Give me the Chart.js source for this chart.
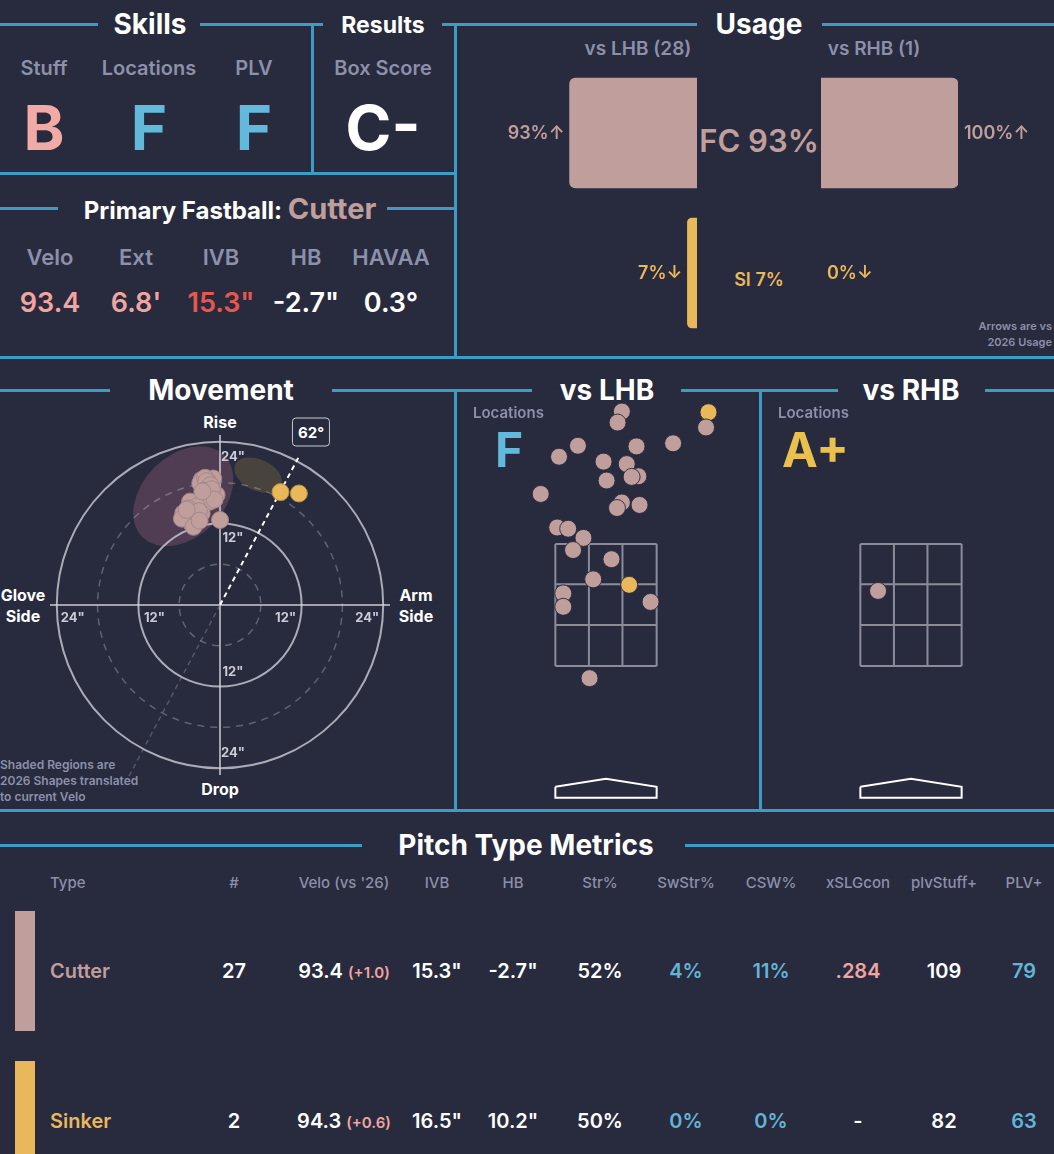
<!DOCTYPE html>
<html>
<head>
<meta charset="utf-8">
<script src="https://cdn.jsdelivr.net/npm/chart.js@4.4.1/dist/chart.umd.min.js"></script>
<style>
  body { margin: 0; background: #282a3e; overflow: hidden; font-family: Inter, "DejaVu Sans", sans-serif; }
  #board { position: relative; width: 1054px; height: 1154px; overflow: hidden; background: #282a3e; color: #fff; }
  .hl { position: absolute; height: 3px; background: #3b9cc6; }
  .vl { position: absolute; width: 3px; background: #3b9cc6; }
  .t { position: absolute; transform: translate(-50%, -50%); white-space: nowrap; line-height: 1; }
  .tr { position: absolute; transform: translate(-100%, -50%); white-space: nowrap; line-height: 1; }
  .tl { position: absolute; transform: translate(0, -50%); white-space: nowrap; line-height: 1; }
  canvas { position: absolute; }
</style>
</head>
<body>
<div id="board"></div>
<script>
// ---------- data ----------
const pitchTypes = ['Cutter', 'Sinker'];
const pitchCodes = ['FC', 'SI'];
const pitchColors = ['#c09e9c', '#e8b85a'];

// usage (%)
const usageAll = [93, 7];
const usageLHB = [93, 7];
const usageRHB = [100, 0];
const usageArrowLHB = ['↑', '↓'];
const usageArrowRHB = ['↑', '↓'];
const batterCounts = [28, 1];

// movement (inches): horizontal break, induced vertical break
const cutterHB = [-2.7, -1.0, -1.7, -2.9, -0.5, -2.7, -4.4, -1.5, -5.4, -3.7, -2.7, -4.2, -5.6, 0.0,
  -2.2, -3.4, -4.7, -3.9, -2.0, -1.4, -3.1, -4.9, -2.4, -1.2, -3.0, -0.8, -2.6];
const cutterIVB = [18.4, 18.6, 18.1, 17.9, 16.2, 15.4, 15.2, 15.2, 13.5, 13.0, 13.5, 12.0, 12.7, 12.5,
  18.7, 14.5, 14.2, 11.5, 18.2, 17.6, 13.8, 14.0, 16.8, 17.0, 12.4, 15.5, 16.7];
const sinkerHB = [8.9, 11.6];
const sinkerIVB = [16.6, 16.4];
const armAngle = 62;
const ringValues = [6, 12, 18, 24];

// 2026 shapes (inches, degrees)
const shapeHB = [-5.4, 5.6];
const shapeIVB = [16.0, 19.1];
const shapeMajor = [8.5, 3.7];
const shapeMinor = [6.0, 2.3];
const shapeTilt = [45, -25];

// locations (feet): plate_x, plate_z
const lhbCutterX = [0.26, 0.19, 1.64, -0.46, -0.77, 0.50, 1.10, -0.04, 0.34, 0.53, 0.42, 0.01, -1.07,
  0.26, 0.18, 0.55, -0.80, -0.62, -0.37, -0.54, 0.09, -0.21, -0.70, -0.70, 0.73, -0.27];
const lhbCutterZ = [5.67, 5.49, 5.41, 5.11, 4.93, 5.10, 5.15, 4.85, 4.81, 4.61, 4.60, 4.54, 4.32,
  4.18, 4.09, 4.14, 3.77, 3.75, 3.60, 3.40, 3.25, 2.92, 2.69, 2.47, 2.55, 1.30];
const lhbSinkerX = [1.68, 0.38];
const lhbSinkerZ = [5.66, 2.83];
const rhbCutterX = [-0.54];
const rhbCutterZ = [2.73];
const locationGrades = ['F', 'A+'];

// skills / results
const skillLabels = ['Stuff', 'Locations', 'PLV'];
const skillGrades = ['B', 'F', 'F'];
const boxScore = 'C-';
const fbLabels = ['Velo', 'Ext', 'IVB', 'HB', 'HAVAA'];
const fbValues = ['93.4', "6.8'", '15.3"', '-2.7"', '0.3°'];

// table
const tableHeaders = ['Type', '#', "Velo (vs '26)", 'IVB', 'HB', 'Str%', 'SwStr%', 'CSW%', 'xSLGcon', 'plvStuff+', 'PLV+'];
const pitchCounts = ['27', '2'];
const velo = ['93.4', '94.3'];
const veloDiff = ['+1.0', '+0.6'];
const ivb = ['15.3"', '16.5"'];
const hb = ['-2.7"', '10.2"'];
const strPct = ['52%', '50%'];
const swStrPct = ['4%', '0%'];
const cswPct = ['11%', '0%'];
const xslgcon = ['.284', '-'];
const plvStuff = ['109', '82'];
const plvPlus = ['79', '63'];

// ---------- colours ----------
const gray = '#8c90a8';
const gradeColor = { 'A+': '#e9c24e', 'B': '#f2aaa6', 'F': '#62b9dc', 'C-': '#ffffff' };
const blue = '#62b4d8';
const pink = '#f0a5a0';

// ---------- helpers ----------
const board = document.getElementById('board');
function hline(x1, x2, y) {
  const d = document.createElement('div');
  d.className = 'hl';
  d.style.cssText = `left:${x1}px;width:${x2 - x1}px;top:${y - 1.5}px`;
  board.appendChild(d);
}
function vline(x, y1, y2) {
  const d = document.createElement('div');
  d.className = 'vl';
  d.style.cssText = `left:${x - 1.5}px;top:${y1}px;height:${y2 - y1}px`;
  board.appendChild(d);
}
function text(x, y, html, style, cls) {
  const d = document.createElement('div');
  d.className = cls || 't';
  d.style.cssText = `left:${x}px;top:${y}px;` + (style || '');
  d.innerHTML = html;
  board.appendChild(d);
  return d;
}
function canvas(left, top, w, h) {
  const c = document.createElement('canvas');
  c.width = w; c.height = h;
  c.style.cssText = `left:${left}px;top:${top}px;width:${w}px;height:${h}px`;
  board.appendChild(c);
  return c;
}
const H1 = 'font-size:28px;font-weight:700;color:#fff;';
const baseOptions = {
  responsive: false, animation: false, events: [],
  layout: { padding: 0, autoPadding: false },
  plugins: { legend: { display: false }, tooltip: { enabled: false } }
};

// ---------- frame ----------
hline(0, 98, 24); hline(200, 323, 24); hline(442, 455, 24);
hline(455, 697, 24); hline(822, 1054, 24);
vline(312, 24, 173); vline(455, 24, 357);
hline(0, 455, 173);
hline(0, 58, 208); hline(387, 455, 208);
hline(0, 1054, 357);
hline(0, 110, 390); hline(332, 455, 390);
hline(455, 532, 390); hline(681, 760, 390);
hline(760, 838, 390); hline(985, 1054, 390);
vline(455, 390, 810); vline(760, 390, 810);
hline(0, 1054, 810);
hline(0, 362, 845); hline(685, 1054, 845);

// ---------- skills / results ----------
text(150, 24, 'Skills', H1);
text(383, 25, 'Results', 'font-size:23px;font-weight:700;');
const skillX = [44, 149, 254];
skillLabels.forEach((s, i) => {
  text(skillX[i], 68, s, `font-size:20px;font-weight:600;color:${gray}`);
  text(skillX[i], 128, skillGrades[i], `font-size:62px;font-weight:700;color:${gradeColor[skillGrades[i]]}`);
});
text(383, 68, 'Box Score', `font-size:20px;font-weight:600;color:${gray}`);
text(383, 128, boxScore, `font-size:62px;font-weight:700;color:${gradeColor[boxScore]}`);

text(230, 208, `Primary Fastball: <span style="font-size:29px;color:${pitchColors[0]}">${pitchTypes[0]}</span>`, 'font-size:24px;font-weight:700;');
const fbX = [50, 136, 221, 306, 391];
const fbColors = [pink, pink, '#e8574f', '#fff', '#fff'];
fbLabels.forEach((s, i) => {
  text(fbX[i], 257, s, `font-size:22px;font-weight:600;color:${gray}`);
  text(fbX[i], 302, fbValues[i], `font-size:27px;font-weight:600;color:${fbColors[i]}`);
});

// ---------- usage ----------
text(759, 24, 'Usage', H1);
text(638, 48, `vs LHB (${batterCounts[0]})`, `font-size:19px;font-weight:600;color:${gray}`);
text(874, 48, `vs RHB (${batterCounts[1]})`, `font-size:19px;font-weight:600;color:${gray}`);
text(759, 140, `${pitchCodes[0]} ${usageAll[0]}%`, `font-size:31px;font-weight:600;color:${pitchColors[0]}`);
text(759, 280, `${pitchCodes[1]} ${usageAll[1]}%`, `font-size:18px;font-weight:600;color:${pitchColors[1]}`);
text(1052, 326, 'Arrows are vs', `font-size:11px;font-weight:600;color:${gray}`, 'tr');
text(1052, 342, '2026 Usage', `font-size:11px;font-weight:600;color:${gray}`, 'tr');

function usageChart(left, values, reverse) {
  const c = canvas(left, 63, 137, 280);
  return new Chart(c, {
    type: 'bar',
    data: {
      labels: pitchCodes,
      datasets: [{ data: values.map(v => v || null), backgroundColor: pitchColors, borderRadius: 6, barThickness: 110 }]
    },
    options: {
      ...baseOptions,
      indexAxis: 'y',
      scales: {
        x: { min: 0, max: 100, reverse: reverse, display: false },
        y: { display: false }
      }
    }
  });
}
const uL = usageChart(560, usageLHB, true);
const uR = usageChart(821, usageRHB, false);
const rowCenters = uL.getDatasetMeta(0).data.map(b => b.y);
uL.getDatasetMeta(0).data.forEach((bar, i) => {
  text(560 + bar.x - 5, 63 + rowCenters[i], `${usageLHB[i]}%${usageArrowLHB[i]}`,
    `font-size:18px;font-weight:600;color:${pitchColors[i]}`, 'tr');
});
usageRHB.forEach((v, i) => {
  const x = uR.scales.x.getPixelForValue(v);
  text(821 + x + 6, 63 + rowCenters[i], `${v}%${usageArrowRHB[i]}`,
    `font-size:18px;font-weight:600;color:${pitchColors[i]}`, 'tl');
});

// ---------- movement ----------
text(221, 390, 'Movement', H1);
text(220, 422, 'Rise', 'font-size:16px;font-weight:700;');
text(220, 789, 'Drop', 'font-size:16px;font-weight:700;');
text(23, 595, 'Glove', 'font-size:16px;font-weight:700;');
text(23, 616, 'Side', 'font-size:16px;font-weight:700;');
text(416, 595, 'Arm', 'font-size:16px;font-weight:700;');
text(416, 616, 'Side', 'font-size:16px;font-weight:700;');
text(311, 432, `${armAngle}°`, 'font-size:15px;font-weight:700;border:1.5px solid #c8c8d4;border-radius:4px;padding:6px 5px;background:#282a3e;');
['Shaded Regions are', '2026 Shapes translated', 'to current Velo'].forEach((s, i) => {
  text(0, 765 + i * 16, s, `font-size:12px;font-weight:600;color:${gray}`, 'tl');
});

const shapeFills = ['rgba(200,120,150,0.25)', 'rgba(190,160,60,0.22)'];
const movementGrid = {
  id: 'movementGrid',
  beforeDatasetsDraw(chart) {
    const { ctx, scales: { x, y } } = chart;
    const cx = x.getPixelForValue(0), cy = y.getPixelForValue(0);
    const len = v => x.getPixelForValue(v) - cx;
    ctx.save();
    shapeHB.forEach((h, i) => {
      ctx.beginPath();
      ctx.ellipse(x.getPixelForValue(h), y.getPixelForValue(shapeIVB[i]), len(shapeMajor[i]), len(shapeMinor[i]),
        -shapeTilt[i] * Math.PI / 180, 0, Math.PI * 2);
      ctx.fillStyle = shapeFills[i];
      ctx.fill();
    });
    ringValues.forEach(r => {
      const solid = r % 12 === 0;
      ctx.beginPath();
      ctx.arc(cx, cy, len(r), 0, Math.PI * 2);
      ctx.setLineDash(solid ? [] : [7, 6]);
      ctx.lineWidth = solid ? 2 : 1.5;
      ctx.strokeStyle = solid ? 'rgba(215,215,225,0.75)' : 'rgba(200,200,210,0.35)';
      ctx.stroke();
    });
    ctx.setLineDash([]);
    ctx.strokeStyle = 'rgba(215,215,225,0.7)';
    ctx.lineWidth = 2;
    ctx.beginPath();
    ctx.moveTo(x.getPixelForValue(-25), cy); ctx.lineTo(x.getPixelForValue(25), cy);
    ctx.moveTo(cx, y.getPixelForValue(25)); ctx.lineTo(cx, y.getPixelForValue(-25));
    ctx.stroke();
    // ring labels
    ctx.fillStyle = '#c9cad6';
    ctx.font = '700 13px Inter, sans-serif';
    ctx.textAlign = 'center';
    ctx.textBaseline = 'middle';
    ringValues.filter(r => r % 12 === 0).forEach(r => {
      const p = len(r), lbl = r + '"';
      ctx.fillText(lbl, cx + 13, cy - p + 15);
      ctx.fillText(lbl, cx + 13, cy + p - 15);
      ctx.fillText(lbl, cx - p + 16, cy + 13);
      ctx.fillText(lbl, cx + p - 16, cy + 13);
    });
    // arm angle
    const a = armAngle * Math.PI / 180;
    ctx.setLineDash([5, 4]);
    ctx.lineWidth = 1.5;
    ctx.strokeStyle = 'rgba(170,170,185,0.35)';
    ctx.beginPath();
    ctx.moveTo(cx, cy);
    ctx.lineTo(x.getPixelForValue(-28.5 * Math.cos(a)), y.getPixelForValue(-28.5 * Math.sin(a)));
    ctx.stroke();
    ctx.lineWidth = 2;
    ctx.strokeStyle = '#ffffff';
    ctx.beginPath();
    ctx.moveTo(cx, cy);
    ctx.lineTo(x.getPixelForValue(24.5 * Math.cos(a)), y.getPixelForValue(24.5 * Math.sin(a)));
    ctx.stroke();
    ctx.restore();
  }
};

new Chart(canvas(16, 401, 408, 408), {
  type: 'scatter',
  data: {
    datasets: [
      { data: cutterHB.map((v, i) => ({ x: v, y: cutterIVB[i] })), backgroundColor: pitchColors[0],
        borderColor: '#a3878a', borderWidth: 1, pointRadius: 8.5, clip: false },
      { data: sinkerHB.map((v, i) => ({ x: v, y: sinkerIVB[i] })), backgroundColor: pitchColors[1],
        borderColor: '#b8903f', borderWidth: 1, pointRadius: 8.5, clip: false }
    ]
  },
  options: {
    ...baseOptions,
    scales: { x: { min: -30, max: 30, display: false }, y: { min: -30, max: 30, display: false } }
  },
  plugins: [movementGrid]
});

// ---------- locations ----------
const zoneX = [-0.83, -0.28, 0.27, 0.83];
const zoneZ = [1.5, 2.17, 2.84, 3.5];
const plate = [[-0.83, -0.48], [0, -0.35], [0.83, -0.48], [0.83, -0.66], [-0.83, -0.66], [-0.83, -0.48]];
const strikeZone = {
  id: 'strikeZone',
  beforeDatasetsDraw(chart) {
    const { ctx, scales: { x, y } } = chart;
    ctx.save();
    ctx.strokeStyle = 'rgba(205,205,215,0.6)';
    ctx.lineWidth = 2;
    ctx.beginPath();
    zoneX.forEach(v => {
      ctx.moveTo(x.getPixelForValue(v), y.getPixelForValue(zoneZ[0]));
      ctx.lineTo(x.getPixelForValue(v), y.getPixelForValue(zoneZ[3]));
    });
    zoneZ.forEach(v => {
      ctx.moveTo(x.getPixelForValue(zoneX[0]), y.getPixelForValue(v));
      ctx.lineTo(x.getPixelForValue(zoneX[3]), y.getPixelForValue(v));
    });
    ctx.stroke();
    ctx.restore();
  }
};
function pts(xs, zs) { return xs.map((v, i) => ({ x: v, y: zs[i] })); }
function locationChart(left, cutter, sinker) {
  return new Chart(canvas(left, 398, 292, 410), {
    type: 'scatter',
    data: {
      datasets: [
        { data: cutter, backgroundColor: pitchColors[0], borderColor: 'rgba(40,42,62,0.9)', borderWidth: 1,
          pointRadius: 8.5, clip: false },
        { data: sinker, backgroundColor: pitchColors[1], borderColor: 'rgba(40,42,62,0.9)', borderWidth: 1,
          pointRadius: 8.5, clip: false },
        { data: plate.map(p => ({ x: p[0], y: p[1] })), showLine: true, borderColor: '#ffffff', borderWidth: 2,
          pointRadius: 0, fill: false, tension: 0 }
      ]
    },
    options: {
      ...baseOptions,
      scales: { x: { min: -2.393, max: 2.393, display: false }, y: { min: -0.828, max: 5.893, display: false } }
    },
    plugins: [strikeZone]
  });
}
text(607, 390, 'vs LHB', H1);
text(911, 390, 'vs RHB', H1);
locationChart(460, pts(lhbCutterX, lhbCutterZ), pts(lhbSinkerX, lhbSinkerZ));
locationChart(765, pts(rhbCutterX, rhbCutterZ), []);
[473, 778].forEach((x, i) => {
  text(x, 412, 'Locations', `font-size:15px;font-weight:600;color:${gray}`, 'tl');
  text(x + (i ? 4 : 22), 450, locationGrades[i], `font-size:48px;font-weight:700;color:${gradeColor[locationGrades[i]]}`, 'tl');
});

// ---------- pitch type metrics ----------
text(526, 845, 'Pitch Type Metrics', H1);
const colX = [50, 234, 344, 437, 513, 600, 686, 771, 858, 944, 1024];
tableHeaders.forEach((h, i) => {
  text(colX[i], 882, h, `font-size:15px;font-weight:500;color:${gray}`, i ? 't' : 'tl');
});
const rowY = [971, 1121];
pitchTypes.forEach((p, r) => {
  const y = rowY[r];
  const bar = document.createElement('div');
  bar.style.cssText = `position:absolute;left:15px;width:20px;top:${y - 60}px;height:120px;background:${pitchColors[r]}`;
  board.appendChild(bar);
  const cells = [
    [p, pitchColors[r]],
    [pitchCounts[r], '#fff'],
    [`${velo[r]} <span style="font-size:15px;color:${pink}">(${veloDiff[r]})</span>`, '#fff'],
    [ivb[r], '#fff'],
    [hb[r], '#fff'],
    [strPct[r], '#fff'],
    [swStrPct[r], blue],
    [cswPct[r], blue],
    [xslgcon[r], xslgcon[r] === '-' ? '#fff' : pink],
    [plvStuff[r], '#fff'],
    [plvPlus[r], blue]
  ];
  cells.forEach((c, i) => {
    text(colX[i], y, c[0], `font-size:20px;font-weight:600;color:${c[1]}`, i ? 't' : 'tl');
  });
});
</script>
</body>
</html>
